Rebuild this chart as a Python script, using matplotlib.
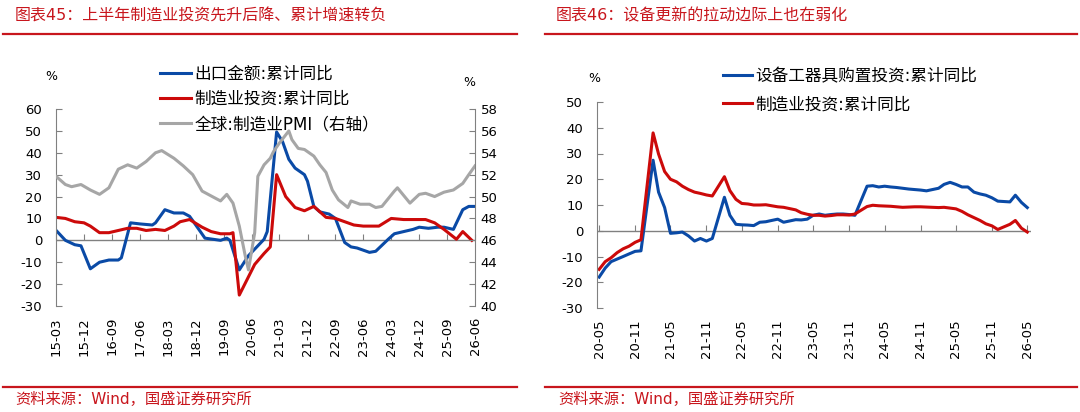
import pandas as pd
import matplotlib
matplotlib.use("Agg")
import matplotlib.pyplot as plt
import matplotlib.dates as mdates
from matplotlib.lines import Line2D

plt.rcParams['font.family'] = ['DejaVu Sans', 'Noto Sans CJK SC']
plt.rcParams['axes.unicode_minus'] = False

# ---- left chart: exports, manufacturing investment, global PMI ----
export_dates = ["2015-03", "2015-06", "2015-09", "2015-11", "2016-02", "2016-05", "2016-08",
                "2016-11", "2016-12", "2017-03", "2017-06", "2017-10", "2017-11", "2018-02",
                "2018-05", "2018-08", "2018-10", "2018-11", "2019-03", "2019-08", "2019-10",
                "2019-11", "2020-02", "2020-05", "2020-08", "2020-10", "2020-11", "2021-02",
                "2021-04", "2021-06", "2021-08", "2021-11", "2021-12", "2022-02", "2022-04",
                "2022-07", "2022-09", "2022-12", "2023-02", "2023-04", "2023-08", "2023-10",
                "2024-02", "2024-04", "2024-07", "2024-10", "2024-12", "2025-03", "2025-06",
                "2025-08", "2025-11", "2026-02", "2026-04", "2026-06"]
export_yoy = [4.6, 0, -2, -2.5, -13, -10, -9,
              -9, -8, 8, 7.5, 7, 8, 14,
              12.5, 12.5, 11, 9, 1, 0, 1,
              0, -13.5, -7, -2.5, 0.5, 4, 49.5,
              45, 37, 33, 30, 27, 15.5, 13,
              12, 10, -1, -3, -3.5, -5.5, -5,
              0.5, 3, 4, 5, 6, 5.5, 6,
              6, 5, 14, 15.5, 15.5]

mfg_dates_l = ["2015-03", "2015-06", "2015-09", "2015-12", "2016-02", "2016-05", "2016-08",
               "2016-11", "2017-02", "2017-05", "2017-08", "2017-11", "2018-02", "2018-05",
               "2018-07", "2018-10", "2019-02", "2019-05", "2019-08", "2019-11", "2019-12",
               "2020-02", "2020-07", "2020-10", "2020-12", "2021-02", "2021-05", "2021-08",
               "2021-11", "2022-02", "2022-06", "2022-09", "2022-12", "2023-03", "2023-06",
               "2023-11", "2024-03", "2024-07", "2025-02", "2025-05", "2025-08", "2025-12",
               "2026-02", "2026-05"]
mfg_yoy_l = [10.5, 10, 8.5, 8, 6.5, 3.5, 3.5,
             4.5, 5.5, 5.5, 4.5, 5, 4.5, 6.5,
             8.5, 9.5, 6, 4, 3, 3, 3.5,
             -25, -11, -6, -3, 30, 20, 15,
             13.5, 15.5, 10.5, 10, 8.5, 7, 6.5,
             6.5, 10, 9.5, 9.5, 8, 5, 0.5,
             4, 0]

pmi_dates = ["2015-03", "2015-06", "2015-08", "2015-11", "2016-02", "2016-05", "2016-08",
             "2016-11", "2017-02", "2017-05", "2017-08", "2017-11", "2018-01", "2018-05",
             "2018-08", "2018-11", "2019-02", "2019-06", "2019-08", "2019-10", "2019-12",
             "2020-02", "2020-04", "2020-05", "2020-07", "2020-08", "2020-10", "2020-12",
             "2021-01", "2021-03", "2021-06", "2021-07", "2021-09", "2021-11", "2022-02",
             "2022-04", "2022-06", "2022-08", "2022-10", "2023-01", "2023-02", "2023-05",
             "2023-08", "2023-10", "2023-12", "2024-04", "2024-05", "2024-09", "2024-12",
             "2025-02", "2025-05", "2025-08", "2025-11", "2026-02", "2026-04", "2026-06"]
pmi = [51.85, 51.1, 50.9, 51.1, 50.6, 50.2, 50.8,
       52.5, 52.9, 52.6, 53.2, 54.0, 54.2, 53.5,
       52.8, 52.0, 50.5, 49.9, 49.6, 50.2, 49.4,
       47.3, 44.5, 43.3, 46.7, 51.85, 52.9, 53.5,
       54.1, 54.9, 56.0, 55.2, 54.4, 54.3, 53.7,
       52.9, 52.2, 50.6, 49.7, 49.0, 49.6, 49.3,
       49.3, 49.0, 49.1, 50.5, 50.8, 49.4, 50.2,
       50.3, 50.0, 50.4, 50.6, 51.2, 52.0, 52.8]

# ---- right chart: equipment purchase vs manufacturing investment ----
r_dates = ["2020-05", "2020-06", "2020-07", "2020-08", "2020-09", "2020-10", "2020-11", "2020-12",
           "2021-02", "2021-03", "2021-04", "2021-05", "2021-06", "2021-07", "2021-08", "2021-09",
           "2021-10", "2021-11", "2021-12", "2022-02", "2022-03", "2022-04", "2022-05", "2022-06",
           "2022-07", "2022-08", "2022-09", "2022-10", "2022-11", "2022-12", "2023-02", "2023-03",
           "2023-04", "2023-05", "2023-06", "2023-07", "2023-08", "2023-09", "2023-10", "2023-11",
           "2023-12", "2024-02", "2024-03", "2024-04", "2024-05", "2024-06", "2024-07", "2024-08",
           "2024-09", "2024-10", "2024-11", "2024-12", "2025-02", "2025-03", "2025-04", "2025-05",
           "2025-06", "2025-07", "2025-08", "2025-09", "2025-10", "2025-11", "2025-12", "2026-02",
           "2026-03", "2026-04", "2026-05"]
equip_yoy = [-18, -14.5, -12, -11, -10, -9, -8, -7.8,
             27.4, 15, 9, -1, -0.8, -0.5, -2, -4,
             -3, -4, -3, 13, 6, 2.5, 2.3, 2.2,
             2, 3.3, 3.5, 4, 4.5, 3.3, 4.3, 4.2,
             4.5, 6, 6.5, 6, 6.3, 6.5, 6.5, 6.3,
             6, 17.3, 17.5, 17, 17.3, 17, 16.8, 16.5,
             16.2, 16, 15.8, 15.5, 16.5, 18, 18.8, 18,
             17, 17, 15, 14.3, 13.8, 12.8, 11.5, 11.2,
             13.8, 11, 9]
mfg_yoy_r = [-15, -12, -10.5, -8.5, -7, -6, -4.5, -3.5,
             38, 29.8, 23, 20, 19, 17.3, 16, 15,
             14.5, 13.9, 13.5, 21, 15.6, 12.2, 10.6, 10.4,
             10, 10, 10.1, 9.7, 9.3, 9.1, 8.1, 7,
             6.4, 6, 6, 5.7, 5.9, 6.2, 6.2, 6.1,
             6.5, 9.4, 9.9, 9.7, 9.6, 9.5, 9.3, 9.1,
             9.2, 9.3, 9.3, 9.2, 9, 9.1, 8.8, 8.5,
             7.5, 6.2, 5.1, 4, 2.7, 1.9, 0.5, 2.5,
             4, 1, -0.5]

BLUE = "#0A4AA6"
RED = "#CC0A0A"
GRAY = "#A6A6A6"
TITLE_RED = "#C8161D"
AX_GRAY = "#808080"

W, H = 1080, 412
fig = plt.figure(figsize=(W / 100, H / 100), dpi=100)


def rect(x0, y0, x1, y1):
    # pixel box -> figure fraction [left, bottom, width, height]
    return [x0 / W, 1 - y1 / H, (x1 - x0) / W, (y1 - y0) / H]


def style_axis(ax, xmin, xmax, ticks):
    ax.set_xlim(pd.Timestamp(xmin), pd.Timestamp(xmax))
    for s in ["top", "right", "bottom"]:
        ax.spines[s].set_visible(False)
    ax.spines["left"].set_color(AX_GRAY)
    ax.tick_params(axis="y", direction="in", length=4, color=AX_GRAY, labelsize=9.5, pad=10)
    ax.set_xticks(ticks)
    ax.xaxis.set_major_formatter(mdates.DateFormatter("%y-%m"))
    ax.tick_params(axis="x", length=0, labelsize=9.5, labelrotation=90, pad=8)
    ax.axhline(0, color=AX_GRAY, lw=1, zorder=1)
    # tick marks sitting on the zero line
    sec = ax.secondary_xaxis(0, transform=ax.transData)
    sec.spines["bottom"].set_visible(False)
    sec.set_xticks(ticks)
    sec.tick_params(axis="x", direction="in", length=4, color=AX_GRAY, labelbottom=False)


# left panel
ax1 = fig.add_axes(rect(56, 109, 475, 306))
ticks_l = pd.date_range("2015-03-01", "2026-06-01", freq="9MS")
style_axis(ax1, "2015-03-01", "2026-06-01", ticks_l)
ax1.set_ylim(-30, 60)
ax1.set_yticks(range(-30, 61, 10))
l1, = ax1.plot(pd.to_datetime(export_dates), export_yoy, color=BLUE, lw=2.2, label="出口金额:累计同比")
l2, = ax1.plot(pd.to_datetime(mfg_dates_l), mfg_yoy_l, color=RED, lw=2.2, label="制造业投资:累计同比")
tw = ax1.twinx()
l3, = tw.plot(pd.to_datetime(pmi_dates), pmi, color=GRAY, lw=2.2, label="全球:制造业PMI（右轴）")
tw.set_ylim(40, 58)
tw.set_yticks(range(40, 59, 2))
for s in ["top", "left", "bottom"]:
    tw.spines[s].set_visible(False)
tw.spines["right"].set_color(AX_GRAY)
tw.tick_params(axis="y", direction="in", length=4, color=AX_GRAY, labelsize=9.5, pad=4)
fig.text(51 / W, 1 - 77 / H, "%", fontsize=9, ha="center", va="center")
fig.text(469 / W, 1 - 82 / H, "%", fontsize=9, ha="center", va="center")
fig.legend([l1, l2, l3], [l1.get_label(), l2.get_label(), l3.get_label()],
           loc="upper left", bbox_to_anchor=(160 / W, 1 - 65 / H), frameon=False,
           fontsize=12, handlelength=1.85, handletextpad=0.2, labelspacing=0.42,
           borderpad=0, borderaxespad=0)

# right panel
ax2 = fig.add_axes(rect(597, 102, 1031, 308))
ticks_r = pd.date_range("2020-05-01", "2026-05-01", freq="6MS")
style_axis(ax2, "2020-04-20", "2026-05-20", ticks_r)
ax2.set_ylim(-30, 50)
ax2.set_yticks(range(-30, 51, 10))
r1, = ax2.plot(pd.to_datetime(r_dates), equip_yoy, color=BLUE, lw=2.2, label="设备工器具购置投资:累计同比")
r2, = ax2.plot(pd.to_datetime(r_dates), mfg_yoy_r, color=RED, lw=2.2, label="制造业投资:累计同比")
fig.text(594 / W, 1 - 78 / H, "%", fontsize=9, ha="center", va="center")
fig.legend([r1, r2], [r1.get_label(), r2.get_label()],
           loc="upper left", bbox_to_anchor=(723 / W, 1 - 67 / H), frameon=False,
           fontsize=12, handlelength=1.75, handletextpad=0.2, labelspacing=0.62,
           borderpad=0, borderaxespad=0)

# headers and footers
fig.text(15 / W, 1 - 16 / H, "图表45：上半年制造业投资先升后降、累计增速转负",
         color=TITLE_RED, fontsize=11.5, va="center")
fig.text(556 / W, 1 - 16 / H, "图表46：设备更新的拉动边际上也在弱化",
         color=TITLE_RED, fontsize=11.5, va="center")
fig.text(15 / W, 1 - 399 / H, "资料来源：Wind，国盛证券研究所", color=TITLE_RED, fontsize=11, va="center")
fig.text(558 / W, 1 - 399 / H, "资料来源：Wind，国盛证券研究所", color=TITLE_RED, fontsize=11, va="center")
for x0, x1 in [(3, 517), (545, 1077)]:
    for y in (34, 387):
        fig.add_artist(Line2D([x0 / W, x1 / W], [1 - y / H, 1 - y / H],
                              transform=fig.transFigure, color=TITLE_RED, lw=1.6))

fig.savefig("out.png", dpi=100)
